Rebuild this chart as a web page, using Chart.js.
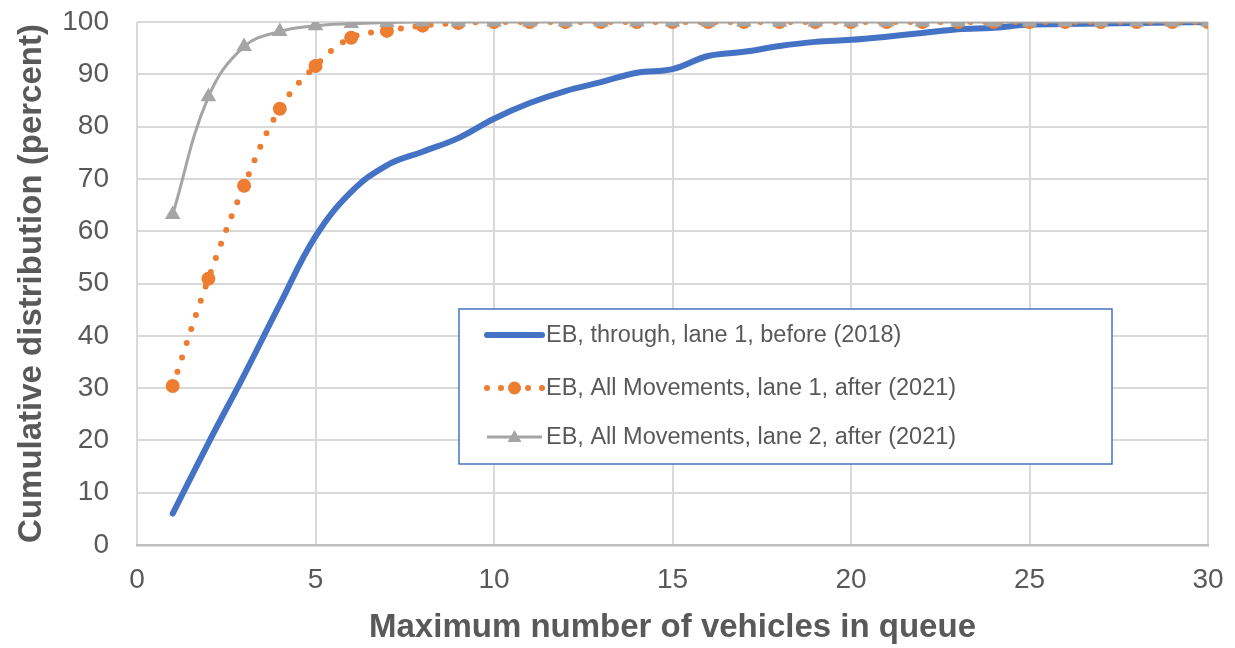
<!DOCTYPE html>
<html>
<head>
<meta charset="utf-8">
<script src="https://cdn.jsdelivr.net/npm/chart.js@4"></script>
<style>
  html, body { margin: 0; padding: 0; background: #fff; }
  #wrap { width: 1235px; height: 648px; position: relative; }
</style>
</head>
<body>
<div id="wrap"><canvas id="queue-chart"></canvas></div>
<script>
// queue length (vehicles) on the x axis
const queueLengths = [1, 2, 3, 4, 5, 6, 7, 8, 9, 10, 11, 12, 13, 14, 15, 16, 17, 18, 19, 20, 21, 22, 23, 24, 25, 26, 27, 28, 29, 30];

// cumulative distribution, percent
const ebThroughLane1Before = [6, 19.5, 32.5, 46, 59, 67.5, 72.6, 75.2, 77.8, 81.5, 84.5, 86.8, 88.5, 90.3, 91, 93.5, 94.3, 95.4, 96.2, 96.6, 97.2, 97.9, 98.6, 98.9, 99.5, 99.6, 99.7, 99.8, 99.9, 100];
const ebAllLane1After = [30.4, 50.9, 68.7, 83.4, 91.6, 97, 98.3, 99.3, 99.8, 100, 100, 100, 100, 100, 100, 100, 100, 100, 100, 100, 100, 100, 100, 100, 100, 100, 100, 100, 100, 100];
const ebAllLane2After = [63.2, 85.7, 95.3, 98.2, 99.3, 99.7, 99.9, 100, 100, 100, 100, 100, 100, 100, 100, 100, 100, 100, 100, 100, 100, 100, 100, 100, 100, 100, 100, 100, 100, 100];

const seriesNames = [
    'EB, through, lane 1, before (2018)',
    'EB, All Movements, lane 1, after (2021)',
    'EB, All Movements, lane 2, after (2021)'
];

const xTicks = [0, 5, 10, 15, 20, 25, 30];
const yTicks = [0, 10, 20, 30, 40, 50, 60, 70, 80, 90, 100];

const BLUE = '#4472C4';
const ORANGE = '#ED7D31';
const GREY = '#A5A5A5';
const TEXT = '#595959';
const FONT = '"Liberation Sans", Arial, sans-serif';

const toPoints = vals => queueLengths.map((q, i) => ({ x: q, y: vals[i] }));

// legend drawn inside the plot, Excel style
const boxLegend = {
    id: 'boxLegend',
    afterDatasetsDraw(chart) {
        const ctx = chart.ctx;
        const ca = chart.chartArea;
        const left = ca.left + 322, top = ca.top + 287;
        const w = 653, h = 155;
        ctx.save();
        ctx.fillStyle = '#fff';
        ctx.fillRect(left, top, w, h);
        ctx.strokeStyle = BLUE;
        ctx.lineWidth = 1.5;
        ctx.strokeRect(left, top, w, h);

        const rows = [top + 26, top + 79, top + 128];
        const x0 = left + 28, x1 = left + 83;
        const mid = (x0 + x1) / 2;
        ctx.lineCap = 'round';

        // row 1 - thick blue
        ctx.strokeStyle = BLUE;
        ctx.lineWidth = 6;
        ctx.beginPath();
        ctx.moveTo(x0, rows[0]);
        ctx.lineTo(x1, rows[0]);
        ctx.stroke();

        // row 2 - dots + big marker
        ctx.fillStyle = ORANGE;
        [x0, x0 + 14, x1 - 14, x1].forEach(x => {
            ctx.beginPath();
            ctx.arc(x, rows[1], 3, 0, Math.PI * 2);
            ctx.fill();
        });
        ctx.beginPath();
        ctx.arc(mid, rows[1], 6.5, 0, Math.PI * 2);
        ctx.fill();

        // row 3 - grey with triangle
        ctx.strokeStyle = GREY;
        ctx.lineWidth = 3;
        ctx.lineCap = 'butt';
        ctx.beginPath();
        ctx.moveTo(x0, rows[2]);
        ctx.lineTo(x1, rows[2]);
        ctx.stroke();
        ctx.fillStyle = GREY;
        const ty = rows[2];
        ctx.beginPath();
        ctx.moveTo(mid, ty - 7);
        ctx.lineTo(mid + 7, ty + 5);
        ctx.lineTo(mid - 7, ty + 5);
        ctx.closePath();
        ctx.fill();

        ctx.fillStyle = TEXT;
        ctx.font = '23.5px ' + FONT;
        ctx.textBaseline = 'middle';
        ctx.textAlign = 'left';
        seriesNames.forEach((name, i) => ctx.fillText(name, x1 + 4, rows[i] + 1));
        ctx.restore();
    }
};

const ctx = document.getElementById('queue-chart');
new Chart(ctx, {
    type: 'line',
    data: {
        datasets: [
            {
                label: seriesNames[2],
                data: toPoints(ebAllLane2After),
                borderColor: GREY,
                backgroundColor: GREY,
                borderWidth: 3,
                pointStyle: 'triangle',
                pointRadius: 9,
                pointBorderWidth: 0,
                tension: 0.4,
                fill: false
            },
            {
                label: seriesNames[1],
                data: toPoints(ebAllLane1After),
                borderColor: ORANGE,
                backgroundColor: ORANGE,
                borderWidth: 6,
                borderDash: [0, 15],
                borderCapStyle: 'round',
                pointRadius: 7,
                pointBorderWidth: 0,
                tension: 0.4,
                fill: false
            },
            {
                label: seriesNames[0],
                data: toPoints(ebThroughLane1Before),
                borderColor: BLUE,
                backgroundColor: BLUE,
                borderWidth: 6,
                borderCapStyle: 'round',
                pointRadius: 0,
                tension: 0.4,
                fill: false
            }
        ]
    },
    options: {
        responsive: true,
        maintainAspectRatio: false,
        animation: false,
        layout: { padding: { top: 22, right: 27, left: 12, bottom: 0 } },
        plugins: {
            legend: { display: false },
            tooltip: { enabled: false }
        },
        scales: {
            x: {
                type: 'linear',
                min: 0,
                max: 30,
                afterBuildTicks: scale => { scale.ticks = xTicks.map(v => ({ value: v })); },
                afterFit: scale => {
                    scale.height = 103;
                    scale.paddingLeft = 0;
                    scale.paddingRight = 0;
                },
                ticks: {
                    color: TEXT,
                    font: { family: FONT, size: 28 },
                    padding: 18,
                    maxRotation: 0
                },
                grid: { color: '#D9D9D9', lineWidth: 2, drawTicks: false },
                border: { color: '#BFBFBF', width: 2.5 },
                title: {
                    display: true,
                    text: 'Maximum number of vehicles in queue',
                    color: TEXT,
                    font: { family: FONT, size: 33, weight: 'bold' },
                    padding: { top: 4, bottom: 0 }
                }
            },
            y: {
                min: 0,
                max: 100,
                afterBuildTicks: scale => { scale.ticks = yTicks.map(v => ({ value: v })); },
                afterFit: scale => {
                    scale.width = 125;
                    scale.paddingTop = 0;
                    scale.paddingBottom = 0;
                },
                ticks: {
                    color: TEXT,
                    font: { family: FONT, size: 28 },
                    padding: 28
                },
                grid: { color: '#D9D9D9', lineWidth: 2, drawTicks: false },
                border: { display: false },
                title: {
                    display: true,
                    text: 'Cumulative distribution (percent)',
                    color: TEXT,
                    font: { family: FONT, size: 33, weight: 'bold' },
                    padding: { top: 0, bottom: 4 }
                }
            }
        }
    },
    plugins: [boxLegend]
});
</script>
</body>
</html>
